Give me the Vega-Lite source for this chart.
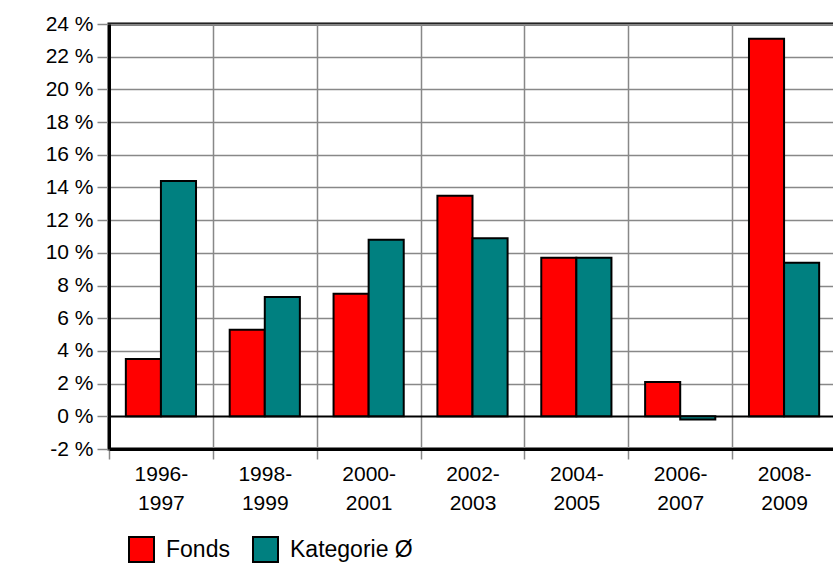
{
  "$schema": "https://vega.github.io/schema/vega-lite/v6.json",
  "width": 727,
  "height": 425,
  "autosize": "none",
  "padding": {"left": 109, "top": 24, "right": 0, "bottom": 115},
  "background": "white",
  "data": {
    "values": [
      {"period": "1996-1997", "series": "Fonds", "value": 3.5},
      {"period": "1996-1997", "series": "Kategorie Ø", "value": 14.4},
      {"period": "1998-1999", "series": "Fonds", "value": 5.3},
      {"period": "1998-1999", "series": "Kategorie Ø", "value": 7.3},
      {"period": "2000-2001", "series": "Fonds", "value": 7.5},
      {"period": "2000-2001", "series": "Kategorie Ø", "value": 10.8},
      {"period": "2002-2003", "series": "Fonds", "value": 13.5},
      {"period": "2002-2003", "series": "Kategorie Ø", "value": 10.9},
      {"period": "2004-2005", "series": "Fonds", "value": 9.7},
      {"period": "2004-2005", "series": "Kategorie Ø", "value": 9.7},
      {"period": "2006-2007", "series": "Fonds", "value": 2.1},
      {"period": "2006-2007", "series": "Kategorie Ø", "value": -0.2},
      {"period": "2008-2009", "series": "Fonds", "value": 23.1},
      {"period": "2008-2009", "series": "Kategorie Ø", "value": 9.4}
    ]
  },
  "mark": {"type": "bar", "stroke": "black", "strokeWidth": 2},
  "encoding": {
    "x": {
      "field": "period",
      "type": "nominal",
      "sort": null,
      "scale": {"paddingInner": 0, "paddingOuter": 0},
      "axis": {
        "title": null,
        "tickBand": "extent",
        "grid": true,
        "gridColor": "#888888",
        "gridWidth": 1.5,
        "gridOpacity": 1,
        "domainColor": "black",
        "domainWidth": 3,
        "tickColor": "#888888",
        "tickWidth": 1.5,
        "tickSize": 10,
        "labelAngle": 0,
        "labelFont": "Liberation Sans",
        "labelFontSize": 21,
        "labelColor": "black",
        "labelPadding": 4,
        "labelLineHeight": 29,
        "labelOverlap": false,
        "labelExpr": "[slice(datum.label, 0, 5), slice(datum.label, 5)]"
      }
    },
    "xOffset": {
      "field": "series",
      "type": "nominal",
      "sort": ["Fonds", "Kategorie Ø"],
      "scale": {"paddingInner": 0, "paddingOuter": 0.48}
    },
    "y": {
      "field": "value",
      "type": "quantitative",
      "scale": {"domain": [-2, 24], "nice": false, "zero": false},
      "axis": {
        "title": null,
        "values": [-2, 0, 2, 4, 6, 8, 10, 12, 14, 16, 18, 20, 22, 24],
        "labelExpr": "datum.value + ' %'",
        "labelOverlap": false,
        "labelBound": false,
        "labelFlush": false,
        "grid": true,
        "gridColor": {"condition": {"test": "datum.value === 0", "value": "black"}, "value": "#888888"},
        "gridWidth": {"condition": {"test": "datum.value === 0", "value": 2}, "value": 1.5},
        "gridOpacity": 1,
        "domainColor": "black",
        "domainWidth": 3,
        "tickColor": "#888888",
        "tickWidth": 1.5,
        "tickSize": 12,
        "labelFont": "Liberation Sans",
        "labelFontSize": 21,
        "labelColor": "black",
        "labelPadding": 4
      }
    },
    "color": {
      "field": "series",
      "type": "nominal",
      "scale": {"domain": ["Fonds", "Kategorie Ø"], "range": ["#ff0000", "#008080"]},
      "legend": {
        "title": null,
        "orient": "none",
        "legendX": 19,
        "legendY": 512,
        "direction": "horizontal",
        "symbolType": "square",
        "symbolSize": 625,
        "symbolStrokeColor": "black",
        "symbolStrokeWidth": 2,
        "symbolOpacity": 1,
        "labelFont": "Liberation Sans",
        "labelFontSize": 23,
        "labelColor": "black",
        "labelOffset": 11,
        "columnPadding": 19,
        "labelLimit": 300
      }
    }
  },
  "config": {
    "view": {"stroke": "black", "strokeWidth": 3}
  }
}
